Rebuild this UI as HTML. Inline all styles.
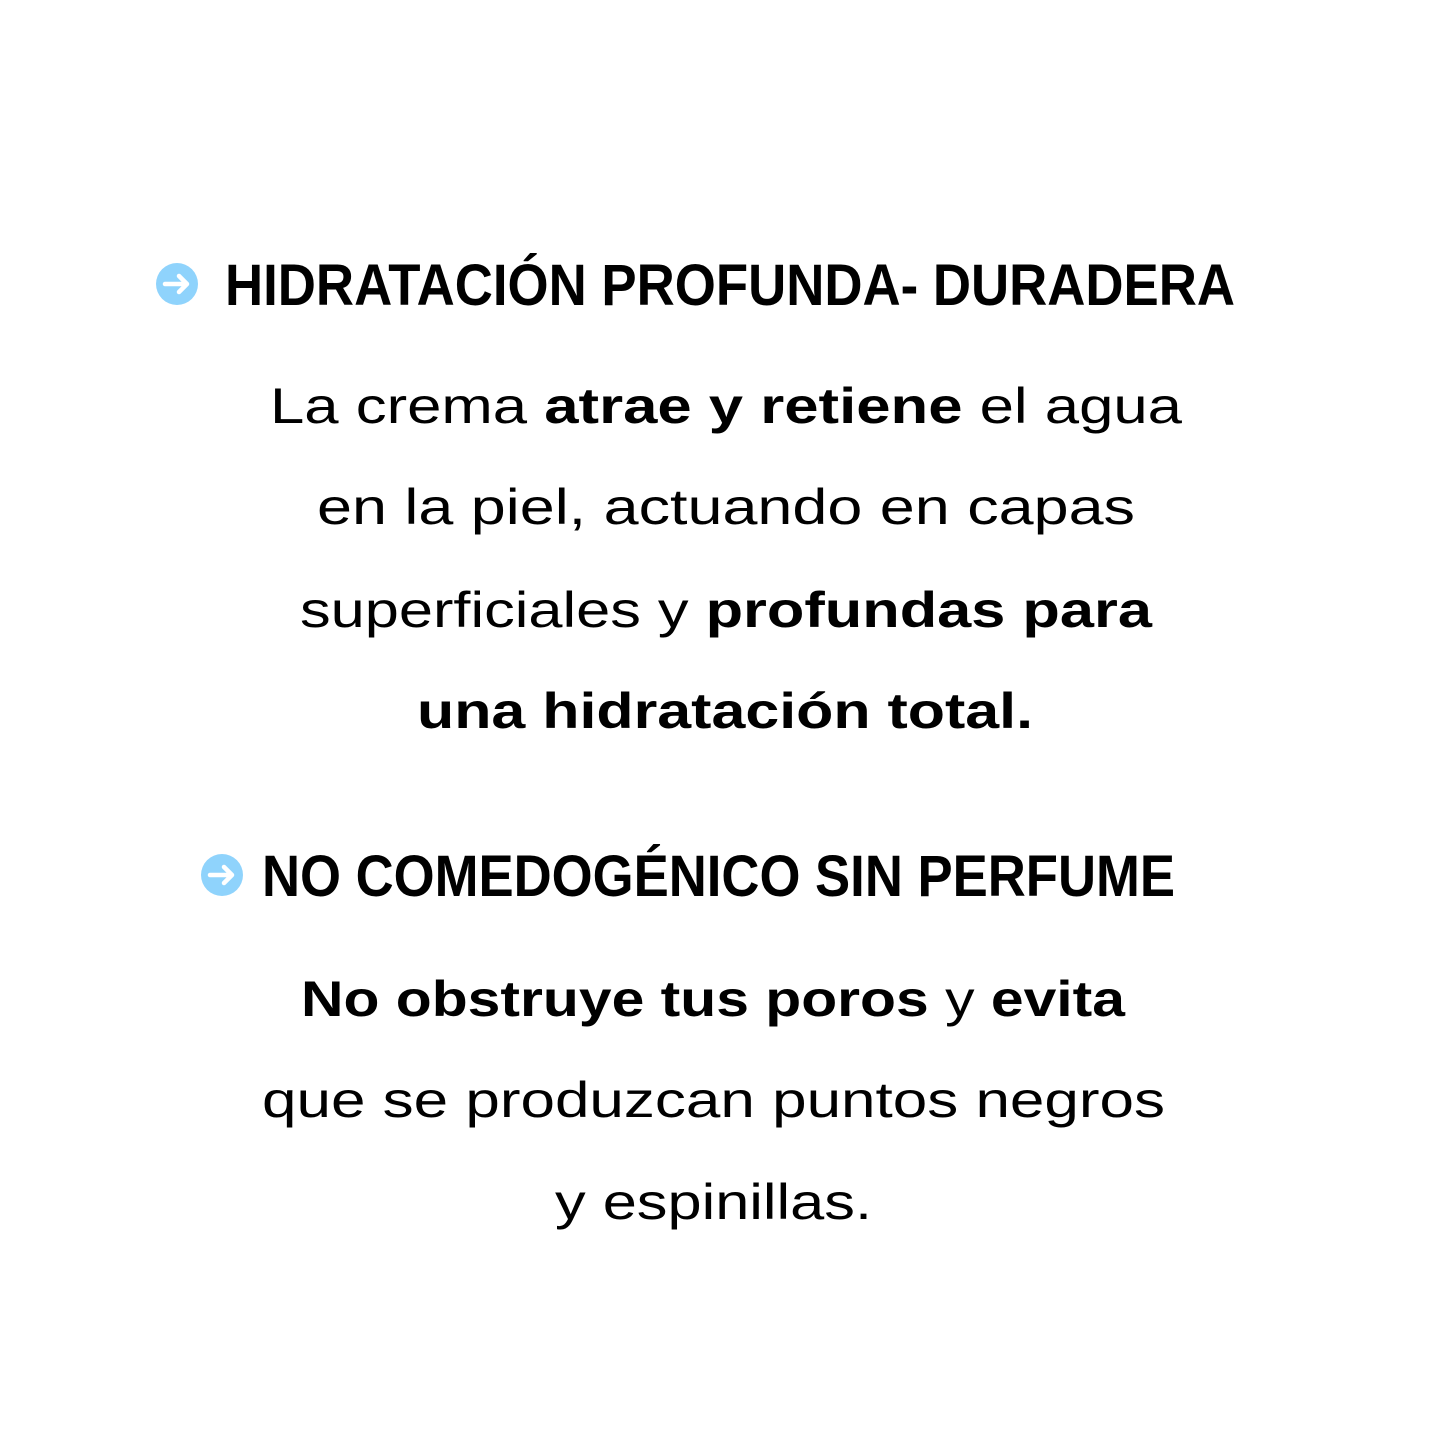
<!DOCTYPE html>
<html><head><meta charset="utf-8"><style>
html,body{margin:0;padding:0;background:#fff;width:1438px;height:1438px;overflow:hidden}
svg{display:block}
.h{font-family:"Liberation Sans",sans-serif;font-weight:bold;font-size:58px;fill:#000}
.b{font-family:"Liberation Sans",sans-serif;font-size:50px;fill:#000}
.b tspan.k{font-weight:bold}
</style></head><body>
<svg width="1438" height="1438" viewBox="0 0 1438 1438" xmlns="http://www.w3.org/2000/svg">
<g>
<circle cx="177" cy="284" r="21" fill="#8fd3fc"/>
<path d="M165 284 H187 M179 276 L187 284 L179 292" stroke="#fff" stroke-width="4.5" fill="none" stroke-linecap="round" stroke-linejoin="round"/>
</g>
<g>
<circle cx="222" cy="875" r="21" fill="#8fd3fc"/>
<path d="M210 875 H232 M224 867 L232 875 L224 883" stroke="#fff" stroke-width="4.5" fill="none" stroke-linecap="round" stroke-linejoin="round"/>
</g>
<text class="h" x="225" y="305" textLength="1010" lengthAdjust="spacingAndGlyphs">HIDRATACIÓN PROFUNDA- DURADERA</text>
<text class="b" x="270" y="423" textLength="912" lengthAdjust="spacingAndGlyphs">La crema <tspan class="k">atrae y retiene</tspan> el agua</text>
<text class="b" x="317" y="524" textLength="818" lengthAdjust="spacingAndGlyphs">en la piel, actuando en capas</text>
<text class="b" x="300" y="627" textLength="852" lengthAdjust="spacingAndGlyphs">superficiales y <tspan class="k">profundas para</tspan></text>
<text class="b" x="417" y="728" textLength="616" lengthAdjust="spacingAndGlyphs"><tspan class="k">una hidratación total.</tspan></text>
<text class="h" x="262" y="896" textLength="913" lengthAdjust="spacingAndGlyphs">NO COMEDOGÉNICO SIN PERFUME</text>
<text class="b" x="301" y="1016" textLength="824" lengthAdjust="spacingAndGlyphs"><tspan class="k">No obstruye tus poros</tspan> y <tspan class="k">evita</tspan></text>
<text class="b" x="262" y="1117" textLength="903" lengthAdjust="spacingAndGlyphs">que se produzcan puntos negros</text>
<text class="b" x="555" y="1219" textLength="317" lengthAdjust="spacingAndGlyphs">y espinillas.</text>
</svg>
</body></html>
